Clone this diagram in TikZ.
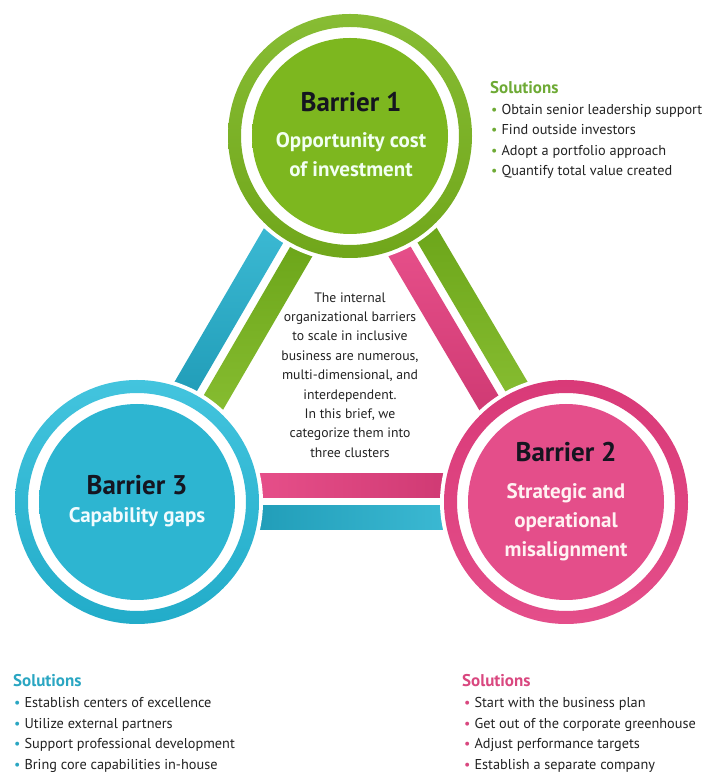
\documentclass[tikz,border=0pt]{standalone}
\usepackage{fontspec}
\setmainfont{PT Sans}
\usetikzlibrary{calc}

% palette
\definecolor{leafring}{HTML}{7AB51D}
\definecolor{leafhi}{HTML}{7DB71F}
\definecolor{leafmid}{HTML}{659D0F}
\definecolor{leafdark}{HTML}{5C980C}
\definecolor{leaflight}{HTML}{96CA3E}
\definecolor{searing}{HTML}{22ACC9}
\definecolor{seahi}{HTML}{2DB5D1}
\definecolor{seamid}{HTML}{118EAA}
\definecolor{seadark}{HTML}{118CA8}
\definecolor{sealight}{HTML}{4BCAE3}
\definecolor{rosering}{HTML}{D93A78}
\definecolor{rosehi}{HTML}{E44E8A}
\definecolor{rosemid}{HTML}{C42862}
\definecolor{rosedark}{HTML}{C22D66}
\definecolor{roselight}{HTML}{F45C97}
\definecolor{inkdark}{HTML}{151520}
\definecolor{inkbody}{HTML}{222222}
\definecolor{solleaf}{HTML}{6EAA35}
\definecolor{solsea}{HTML}{2AA6C2}
\definecolor{solrose}{HTML}{D9477F}

\tikzset{
  barrier/.style={anchor=base, text=inkdark, font=\bfseries\fontsize{27}{30}\selectfont},
  barriersub/.style={anchor=base, align=center, font=\bfseries\fontsize{21}{29}\selectfont},
  soltitle/.style={anchor=base west, inner sep=0pt, font=\bfseries\fontsize{17}{20}\selectfont},
  sollist/.style={anchor=base west, inner sep=0pt, align=left, text=inkbody, font=\fontsize{14.3}{20.5}\selectfont},
  brief/.style={align=center, text=inkbody, font=\fontsize{13.7}{19.4}\selectfont},
}
\newcommand\soldot[1]{\textcolor{#1}{\fontsize{14}{14}\selectfont •}\hspace{4pt}}

\begin{document}
\begin{tikzpicture}[x=1pt,y=1pt]
\useasboundingbox (0,0) rectangle (706,774);

\coordinate (c1) at (350,638);
\coordinate (c2) at (566,272);
\coordinate (c3) at (137,272);

% bars between barrier 1 and barrier 3
\shade[top color=sealight, bottom color=seadark]
  ($(c1)!4pt!-90:(c3)$) -- ($(c1)!28pt!-90:(c3)$) -- ($(c3)!28pt!90:(c1)$) -- ($(c3)!4pt!90:(c1)$) -- cycle;
\shade[top color=leafdark, bottom color=leaflight]
  ($(c1)!4pt!90:(c3)$) -- ($(c1)!28pt!90:(c3)$) -- ($(c3)!28pt!-90:(c1)$) -- ($(c3)!4pt!-90:(c1)$) -- cycle;
% bars between barrier 1 and barrier 2
\shade[top color=roselight, bottom color=rosedark]
  ($(c1)!4pt!-90:(c2)$) -- ($(c1)!28pt!-90:(c2)$) -- ($(c2)!28pt!90:(c1)$) -- ($(c2)!4pt!90:(c1)$) -- cycle;
\shade[top color=leafdark, bottom color=leaflight]
  ($(c1)!4pt!90:(c2)$) -- ($(c1)!28pt!90:(c2)$) -- ($(c2)!28pt!-90:(c1)$) -- ($(c2)!4pt!-90:(c1)$) -- cycle;
% bars between barrier 3 and barrier 2
\shade[left color=roselight, right color=rosedark]
  ($(c3)!4pt!90:(c2)$) -- ($(c3)!28pt!90:(c2)$) -- ($(c2)!28pt!-90:(c3)$) -- ($(c2)!4pt!-90:(c3)$) -- cycle;
\shade[left color=seadark, right color=sealight]
  ($(c3)!4pt!-90:(c2)$) -- ($(c3)!28pt!-90:(c2)$) -- ($(c2)!28pt!90:(c3)$) -- ($(c2)!4pt!90:(c3)$) -- cycle;

% barrier 1
\fill[white] (c1) circle (126);
\shade[top color=leafring!90!white, bottom color=leafring!92!black, even odd rule] (c1) circle (122) (c1) circle (109);
\shade[top color=leafhi, middle color=leafmid, bottom color=leafhi] (c1) circle (98);
% barrier 2
\fill[white] (c2) circle (126);
\shade[top color=rosering, bottom color=rosehi, even odd rule] (c2) circle (122) (c2) circle (109);
\shade[top color=rosehi, middle color=rosemid, bottom color=rosehi] (c2) circle (98);
% barrier 3
\fill[white] (c3) circle (126);
\shade[top color=sealight!80!searing, bottom color=searing, even odd rule] (c3) circle (122) (c3) circle (109);
\shade[top color=seahi, middle color=seamid, bottom color=seahi] (c3) circle (98);

\node[barrier] (b1) at (351,662) {Barrier 1};
\node[barriersub, text=green!5!white] (b1sub) at (351,597) {Opportunity cost\\of investment};
\node[barrier] (b2) at (566,312) {Barrier 2};
\node[barriersub, text=pink!20!white] (b2sub) at (566,217) {Strategic and\\operational\\misalignment};
\node[barrier] (b3) at (137,279) {Barrier 3};
\node[barriersub, text=cyan!5!white] (b3sub) at (137,251) {Capability gaps};

\node[brief] (intro) at (350,399) {The internal\\organizational barriers\\to scale in inclusive\\business are numerous,\\multi-dimensional, and\\interdependent.\\In this brief, we\\categorize them into\\three clusters};

% solutions (lists sit on the baseline of their last line)
\node[soltitle, text=solleaf] (s1) at (490,680) {Solutions};
\node[sollist] (s1list) at (491,598) {\soldot{solleaf}Obtain senior leadership support\\
  \soldot{solleaf}Find outside investors\\
  \soldot{solleaf}Adopt a portfolio approach\\
  \soldot{solleaf}Quantify total value created};
\node[soltitle, text=solsea] (s3) at (13,87) {Solutions};
\node[sollist] (s3list) at (14,5) {\soldot{solsea}Establish centers of excellence\\
  \soldot{solsea}Utilize external partners\\
  \soldot{solsea}Support professional development\\
  \soldot{solsea}Bring core capabilities in-house};
\node[soltitle, text=solrose] (s2) at (462,87) {Solutions};
\node[sollist] (s2list) at (464,5) {\soldot{solrose}Start with the business plan\\
  \soldot{solrose}Get out of the corporate greenhouse\\
  \soldot{solrose}Adjust performance targets\\
  \soldot{solrose}Establish a separate company};
\end{tikzpicture}
\end{document}
